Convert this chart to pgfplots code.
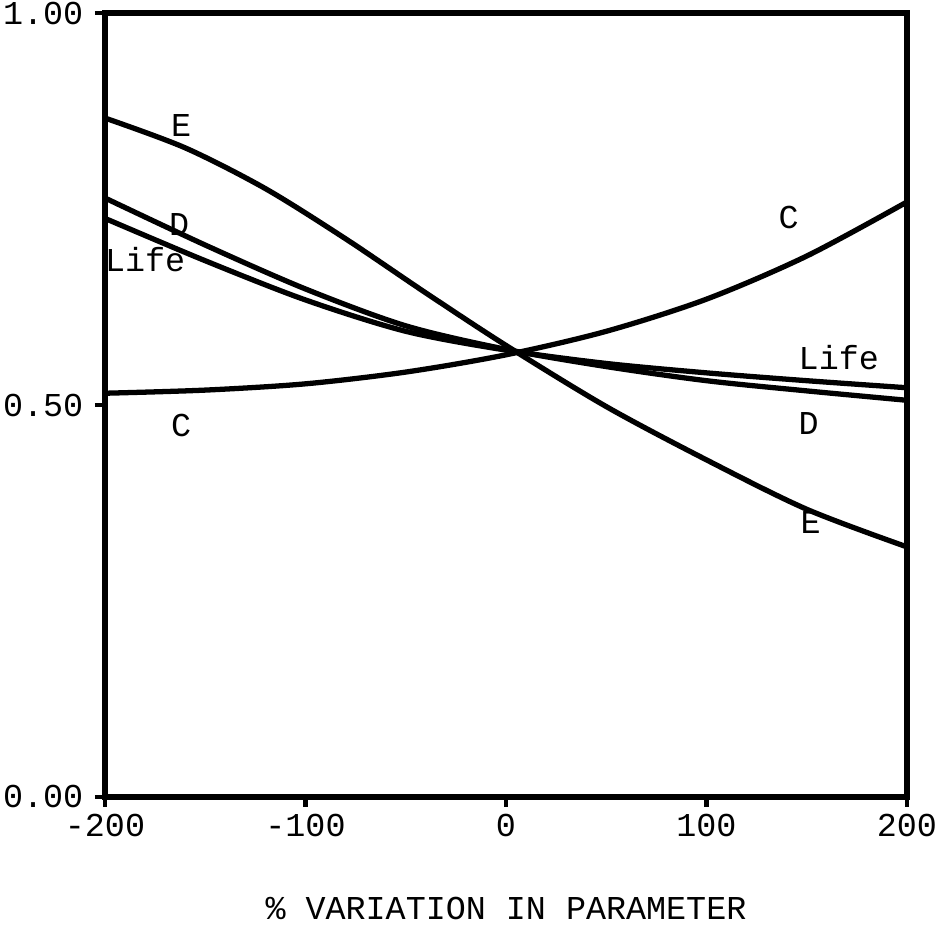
\documentclass[border=0pt]{standalone}
\usepackage{fontspec}
\setmainfont{Liberation Mono}
\usepackage{pgfplots}
\pgfplotsset{compat=1.18}
\begin{document}
\fontsize{9.5}{11}\selectfont
\begin{tikzpicture}
\begin{axis}[
  scale only axis,
  width=80.2mm, height=78.4mm,
  xmin=-200, xmax=200, ymin=0, ymax=1,
  axis line style={line width=1.8pt},
  xtick={-200,-100,0,100,200},
  xticklabels={-200,-100,0,100,200},
  ytick={0,0.5,1},
  yticklabels={0.00,0.50,1.00},
  tick align=outside,
  major tick length=1mm,
  tick style={line width=1.4pt, black},
  xtick pos=left, ytick pos=left,
  xticklabel style={yshift=0.5mm},
  xlabel={\% VARIATION IN PARAMETER},
  xlabel style={yshift=-3.8mm},
  cycle list={{black}},
  every axis plot/.append style={line width=1.5pt, black, smooth, no marks},
  clip=false,
]
\addplot coordinates {(-200,0.866) (-160,0.828) (-120,0.776) (-80,0.712) (-40,0.643) (0,0.576) (50,0.498) (100,0.430) (150,0.367) (200,0.319)};
\addplot coordinates {(-200,0.764) (-150,0.704) (-100,0.648) (-50,0.601) (0,0.571) (50,0.549) (100,0.531) (150,0.518) (200,0.506)};
\addplot coordinates {(-200,0.738) (-150,0.684) (-100,0.634) (-50,0.594) (0,0.570) (50,0.553) (100,0.541) (150,0.531) (200,0.522)};
\addplot coordinates {(-200,0.515) (-150,0.519) (-100,0.527) (-50,0.542) (0,0.564) (50,0.594) (100,0.635) (150,0.690) (200,0.759)};
\node at (axis cs:-162,0.857) {E};
\node at (axis cs:-163,0.730) {D};
\node at (axis cs:-180,0.685) {Life};
\node at (axis cs:-162,0.474) {C};
\node at (axis cs:141,0.739) {C};
\node at (axis cs:166,0.561) {Life};
\node at (axis cs:151,0.477) {D};
\node at (axis cs:152,0.350) {E};
\coordinate (bl) at (rel axis cs:0,0);
\end{axis}
\pgfresetboundingbox
\path (bl) ++(-10.5mm,-14.1mm) rectangle ++(94.9mm,93.8mm);
\end{tikzpicture}
\end{document}
